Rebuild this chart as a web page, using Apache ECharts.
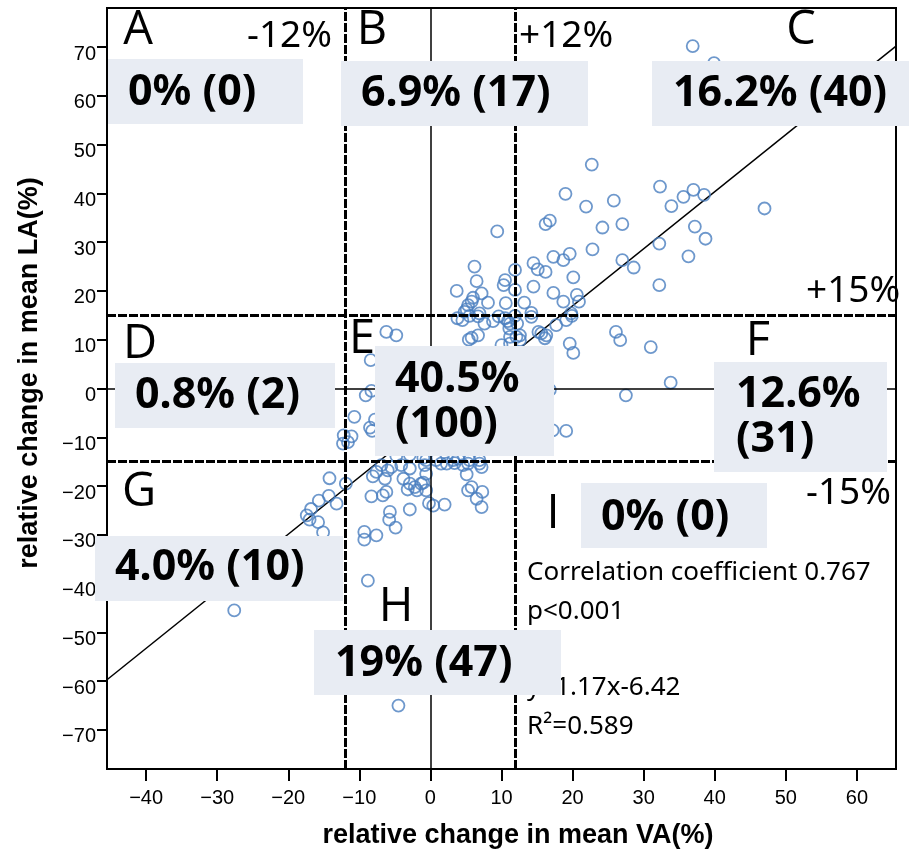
<!DOCTYPE html>
<html><head><meta charset="utf-8">
<script src="https://cdn.jsdelivr.net/npm/echarts@6/dist/echarts.min.js"></script>
<style>html,body{margin:0;padding:0;background:#fff}#c{width:909px;height:849px}</style>
</head><body><div id="c"></div>
<script>
// ---- data ----
const xTicks = [-40,-30,-20,-10,0,10,20,30,40,50,60];
const yTicks = [-70,-60,-50,-40,-30,-20,-10,0,10,20,30,40,50,60,70];
const xRange = [-45.5, 65.5];
const yRange = [-78, 78];
const vaCuts = [-12, 12];
const laCuts = [-15, 15];
const fitLine = [[-45.5,-59.7],[65.5,70.2]];

const pointsB = [[9.4,32.2],[6.2,25.0],[6.5,22.0],[3.7,20.0],[7.2,19.5],[10.5,22.2],[10.3,21.2],[8.1,17.6],[10.6,17.5],[5.8,17.8],[6.0,18.6],[5.3,17.1],[5.1,16.2],[4.8,15.7],[11.9,24.3],[11.9,20.2],[6.9,15.4]];
const pointsC = [[36.9,70.2],[39.9,66.7],[22.7,45.9],[19.0,39.9],[21.9,37.3],[25.8,38.5],[32.3,41.4],[33.9,37.4],[35.6,39.3],[37.0,40.7],[38.5,39.7],[47.0,36.9],[16.2,33.7],[16.8,34.4],[24.2,33.0],[27.0,33.7],[37.2,33.2],[38.7,30.7],[32.2,29.7],[22.8,28.5],[36.3,27.1],[27.0,26.3],[28.6,24.8],[17.3,27.0],[18.7,26.3],[19.6,27.6],[20.1,22.8],[14.5,25.7],[15.1,24.4],[16.2,23.9],[14.5,20.9],[17.3,19.6],[18.7,17.8],[20.6,19.2],[20.9,17.8],[32.2,21.2],[13.2,17.6],[19.8,15.4],[14.2,15.5],[43.0,57.0]];
const pointsD = [[-12.2,-9.6],[-12.3,-11.3]];
const pointsE = [[-6.2,11.6],[-4.8,10.9],[-8.4,5.8],[-9.1,-1.4],[-8.3,-0.5],[-10.7,-5.8],[-8.5,-8.0],[-8.2,-8.7],[-7.8,-6.4],[-11.1,-9.8],[-11.6,-11.0],
 [3.8,14.4],[4.5,14.0],[5.5,14.9],[6.7,14.8],[7.6,13.3],[8.8,13.8],[9.6,14.8],[10.5,14.4],[10.9,13.8],[11.2,13.3],[11.9,14.9],[11.1,12.3],[5.8,10.4],[6.7,10.9],[5.4,10.0],[10.0,8.9],[11.2,9.2],[11.2,10.6],
 [-0.6,-14.7],[0.8,-14.7],[3.2,-14.7],[3.9,-14.4],[5.5,-14.7],[6.9,-14.7],[-4.8,-13.8],[-2.9,-13.6],[-1.0,-14.2],
 [-6.6,-3.0],[-6.5,2.0],[-6.0,-10.5],[-5.5,-7.0],[-5.0,-12.0],[-4.5,4.5],[-4.0,-2.5],[-3.5,-9.0],[-3.0,0.5],[-2.5,-5.5],[-2.0,-11.5],[-1.5,3.0],[-1.0,-7.5],[-0.5,-2.0],[0.0,-10.0],[0.5,1.5],[1.0,-5.0],[1.5,6.0],[2.0,-12.3],[2.5,-1.0],[3.0,4.0],[3.5,-8.0],[4.0,0.0],[4.5,7.0],[5.0,-3.5],[5.5,2.5],[6.0,-10.0],[6.5,5.0],[7.0,-1.5],[7.5,7.0],[8.0,-6.0],[8.5,3.0],[9.0,-12.0],[9.5,6.5],[10.0,-3.0],[10.5,1.0],[11.0,-8.5],[11.5,5.0],
 [-6.6,6.8],[-5.2,-1.5],[-3.8,6.5],[-2.2,-3.5],[-0.8,5.5],[0.8,-8.8],[2.2,2.8],[3.8,-4.8],[5.2,-7.8],[6.8,1.8],[8.2,-9.5],[9.8,4.2],[-4.2,-5.0],[-1.2,-12.4],[1.8,-2.5],[4.2,-11.0],[7.2,-4.2],[10.2,-6.0],[-6.4,-12.4],[-3.0,-7.8],[0.2,7.0],[3.2,-12.4],[6.2,7.0],[8.8,0.0]];
const pointsF = [[12.6,10.9],[12.1,10.6],[12.6,9.9],[15.2,11.6],[15.6,11.3],[16.3,10.9],[16.1,10.3],[17.7,13.0],[19.1,14.0],[19.9,14.9],[14.2,14.7],[19.6,9.2],[20.1,7.3],[26.1,11.6],[26.7,9.9],[31.0,8.5],[33.8,1.2],[27.5,-1.4],[17.2,-8.6],[19.1,-8.7],[16.8,-0.3],[12.2,13.3],
 [13.0,5.0],[14.5,2.0],[15.5,6.0],[13.5,-2.0],[14.0,-5.5],[16.0,3.0],[12.8,-9.0],[15.0,-11.0],[13.2,0.5]];
const pointsG = [[-14.2,-18.4],[-15.7,-23.0],[-14.3,-22.0],[-13.2,-23.6],[-16.8,-24.7],[-17.4,-26.0],[-17.0,-26.9],[-15.8,-27.4],[-15.1,-29.5],[-27.6,-45.5]];
const pointsH = [[2.3,-15.4],[3.4,-15.3],[5.3,-15.4],[6.9,-15.4],[5.1,-17.6],[5.8,-20.2],[7.3,-21.2],[6.5,-22.6],[7.2,-24.3],[2.0,-23.8],[0.4,-24.0],[1.5,-15.4],[-0.8,-15.7],[-0.6,-17.5],[-1.3,-19.5],[-0.6,-20.9],[4.6,-15.7],[7.2,-16.1],[5.3,-20.9],[-8.1,-18.0],[-7.6,-17.1],[-6.0,-16.8],[-5.5,-16.1],[-6.4,-18.5],[-8.3,-22.1],[-6.7,-21.9],[-6.2,-21.2],[-5.7,-25.3],[-5.8,-26.9],[-4.9,-28.5],[-2.9,-24.8],[-9.3,-29.4],[-9.3,-31.0],[-7.6,-30.1],[-4.1,-15.7],[-3.8,-18.5],[-2.9,-16.4],[-2.9,-19.5],[-3.2,-20.7],[-2.2,-20.2],[-1.9,-20.9],[-6.9,-15.7],[-11.9,-19.5],[-8.8,-39.4],[-4.5,-65.0],[-1.0,-19.3],[-0.2,-23.5]];

const regionLetters = ['A','B','C','D','E','F','G','H','I'];
const regionShares = ['0% (0)','6.9% (17)','16.2% (40)','0.8% (2)','40.5%\n(100)','12.6%\n(31)','4.0% (10)','19% (47)','0% (0)'];
const cutLabels = ['-12%','+12%','+15%','-15%'];
const statLines = ['Correlation coefficient 0.767','p<0.001','y=1.17x-6.42','R\u00b2=0.589'];
const xName = 'relative change in mean VA(%)';
const yName = 'relative change in mean LA(%)';

// ---- chart ----
const allPoints = [].concat(pointsB, pointsC, pointsD, pointsE, pointsF, pointsG, pointsH);
const minus = v => String(v).replace('-', '\u2212');
const chart = echarts.init(document.getElementById('c'), null, {renderer:'canvas'});

const letterFont = '47px "Open Sans"';
const cutFont = '37px "Noto Sans"';
const shareFont = 'bold 43px "Noto Sans"';
const statFont = '26px "Noto Sans"';
const BOX = '#e8ecf3';

const boxes = [
  [108,59,195,65],[341,61,247,65],[652,61,257,65],[115,363,220,65],[375,346,179,110],
  [714,362,173,110],[95,536,248,65],[314,630,247,65],[581,483,186,65]
];
const letterPos = [[138,31],[372,31],[801,31],[140,345],[362,340],[758,342],[139,493],[396,608],[553,515]];
const sharePos = [[128,93],[361,94],[673,94],[135,396],[395,380],[736,395],[115,568],[335,664],[601,518]];
const cutPos = [[247,36],[519,36],[806,291],[806,493]];
const statPos = [[527,573],[527,612],[527,688],[527,727]];

const g = [];
boxes.forEach(b => g.push({type:'rect', z:100, shape:{x:b[0],y:b[1],width:b[2],height:b[3]}, style:{fill:BOX}}));
regionLetters.forEach((t,i) => g.push({type:'text', z:110, x:letterPos[i][0], y:letterPos[i][1],
  style:{text:t, font:letterFont, fill:'#000', textAlign:'center', textVerticalAlign:'middle'}}));
regionShares.forEach((t,i) => {
  const lines = t.split('\n');
  lines.forEach((ln,j) => g.push({type:'text', z:110, x:sharePos[i][0], y:sharePos[i][1] + j*45,
    style:{text:ln, font:shareFont, fill:'#000', textAlign:'left', textVerticalAlign:'middle'}}));
});
cutLabels.forEach((t,i) => g.push({type:'text', z:110, x:cutPos[i][0], y:cutPos[i][1],
  style:{text:t, font:cutFont, fill:'#000', textAlign:'left', textVerticalAlign:'middle'}}));
statLines.forEach((t,i) => g.push({type:'text', z:(i===2?50:110), x:statPos[i][0], y:statPos[i][1],
  style:{text:t, font:statFont, fill:'#000', textAlign:'left', textVerticalAlign:'middle'}}));
g.push({type:'text', z:110, x:518, y:836, style:{text:xName, font:'bold 27px "Liberation Sans"', fill:'#000', textAlign:'center', textVerticalAlign:'middle'}});
g.push({type:'text', z:110, x:30, y:373, rotation:Math.PI/2, style:{text:yName, font:'bold 27px "Liberation Sans"', fill:'#000', textAlign:'center', textVerticalAlign:'middle'}});

const axisFont = {fontFamily:'Liberation Sans', fontSize:20, color:'#000'};
chart.setOption({
  animation:false,
  backgroundColor:'#fff',
  grid:{left:107, right:13, top:8, bottom:80, show:true, borderColor:'#000', borderWidth:2},
  xAxis:{type:'value', min:xRange[0], max:xRange[1],
    axisLine:{show:true, onZero:false, lineStyle:{color:'#000', width:2}},
    axisTick:{show:true, customValues:xTicks, length:12, lineStyle:{color:'#000', width:2}},
    axisLabel:Object.assign({customValues:xTicks, margin:19, formatter:minus}, axisFont),
    splitLine:{show:false}},
  yAxis:{type:'value', min:yRange[0], max:yRange[1],
    axisLine:{show:true, onZero:false, lineStyle:{color:'#000', width:2}},
    axisTick:{show:true, customValues:yTicks, length:10, lineStyle:{color:'#000', width:2}},
    axisLabel:Object.assign({customValues:yTicks, margin:11, formatter:minus, verticalAlign:'top', lineHeight:14}, axisFont),
    splitLine:{show:false}},
  series:[
    {type:'line', data:fitLine, symbol:'none', silent:true, z:3, lineStyle:{color:'#000', width:1.5},
     markLine:{silent:true, symbol:'none', label:{show:false},
       lineStyle:{color:'#000', width:1.5, type:'solid'},
       data:[{xAxis:0},{yAxis:0}]}},
    {type:'scatter', data:[], silent:true,
     markLine:{silent:true, symbol:'none', label:{show:false},
       lineStyle:{color:'#000', width:3, type:[9,2]},
       data:vaCuts.map(v=>({xAxis:v})).concat(laCuts.map(v=>({yAxis:v})))}},
    {type:'scatter', data:allPoints, symbol:'circle', symbolSize:12, z:4,
     itemStyle:{color:'rgba(0,0,0,0)', borderColor:'#4a7ebf', borderWidth:1.8}}
  ],
  graphic:{elements:g}
});
</script></body></html>
